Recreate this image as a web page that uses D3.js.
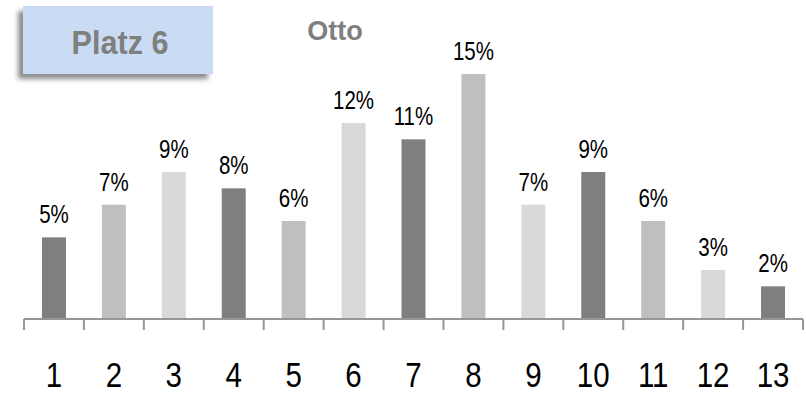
<!DOCTYPE html>
<html>
<head>
<meta charset="utf-8">
<script src="https://cdn.jsdelivr.net/npm/d3@7/dist/d3.min.js"></script>
<style>
  html, body { margin: 0; padding: 0; background: #fff; }
  svg { display: block; }
</style>
</head>
<body>
<svg id="chart" width="806" height="395"></svg>
<script>
// Placements 1..13 and the share of each (percent)
const categories = ["1","2","3","4","5","6","7","8","9","10","11","12","13"];
const shares = [5, 7, 9, 8, 6, 12, 11, 15, 7, 9, 6, 3, 2];
const shareLabels = ["5%","7%","9%","8%","6%","12%","11%","15%","7%","9%","6%","3%","2%"];
const title = "Otto";
const badge = "Platz 6";

const W = 806, H = 395;
const svg = d3.select("#chart");
const font = "'Liberation Sans', Arial, sans-serif";
// condensed look: horizontal squeeze of the regular face
const squeeze = 0.82;

const x = d3.scaleBand()
  .domain(categories)
  .range([24, 803])
  .paddingInner(0.6)
  .paddingOuter(0.3);

const y = d3.scaleLinear()
  .domain([0, 15])
  .range([319, 74]);

const palette = ["#7f7f7f", "#bfbfbf", "#d9d9d9"];

// Badge with soft drop shadow
const defs = svg.append("defs");
const f = defs.append("filter").attr("id", "shadow")
  .attr("x", "-20%").attr("y", "-20%").attr("width", "140%").attr("height", "150%");
f.append("feDropShadow")
  .attr("dx", -5).attr("dy", 5).attr("stdDeviation", 2.5)
  .attr("flood-color", "#000").attr("flood-opacity", 0.45);

svg.append("rect")
  .attr("x", 23).attr("y", 6).attr("width", 190).attr("height", 68)
  .attr("fill", "#c9dcf3")
  .attr("filter", "url(#shadow)");

svg.append("text")
  .attr("transform", "translate(120,54) scale(0.9,1)")
  .attr("text-anchor", "middle")
  .attr("font-family", font)
  .attr("font-weight", "bold")
  .attr("font-size", 34)
  .attr("fill", "#7f7f7f")
  .text(badge);

svg.append("text")
  .attr("x", 335).attr("y", 40)
  .attr("text-anchor", "middle")
  .attr("font-family", font)
  .attr("font-weight", "bold")
  .attr("font-size", 27)
  .attr("fill", "#7f7f7f")
  .text(title);

// Bars
svg.append("g").selectAll("rect")
  .data(shares)
  .join("rect")
  .attr("x", (d, i) => x(categories[i]))
  .attr("y", d => y(d))
  .attr("width", x.bandwidth())
  .attr("height", d => y(0) - y(d))
  .attr("fill", (d, i) => palette[i % 3]);

// Value labels
svg.append("g").selectAll("text")
  .data(shares)
  .join("text")
  .attr("transform", (d, i) =>
    `translate(${x(categories[i]) + x.bandwidth() / 2},${y(d) - 14}) scale(${squeeze},1)`)
  .attr("text-anchor", "middle")
  .attr("font-family", font)
  .attr("font-size", 25)
  .attr("fill", "#000")
  .text((d, i) => shareLabels[i]);

// Category axis with ticks between categories
const step = x.step();
const boundaries = d3.range(categories.length + 1).map(i => 24 + i * step);
const axis = svg.append("g");
axis.append("line")
  .attr("x1", 24).attr("x2", 803)
  .attr("y1", 319).attr("y2", 319)
  .attr("stroke", "#969696").attr("stroke-width", 2);
axis.selectAll("line.tick")
  .data(boundaries)
  .join("line")
  .attr("class", "tick")
  .attr("x1", d => d).attr("x2", d => d)
  .attr("y1", 319).attr("y2", 330)
  .attr("stroke", "#969696").attr("stroke-width", 2);
axis.selectAll("text")
  .data(categories)
  .join("text")
  .attr("transform", d => `translate(${x(d) + x.bandwidth() / 2},387) scale(${squeeze},1)`)
  .attr("text-anchor", "middle")
  .attr("font-family", font)
  .attr("font-size", 36)
  .attr("fill", "#000")
  .text(d => d);
</script>
</body>
</html>
